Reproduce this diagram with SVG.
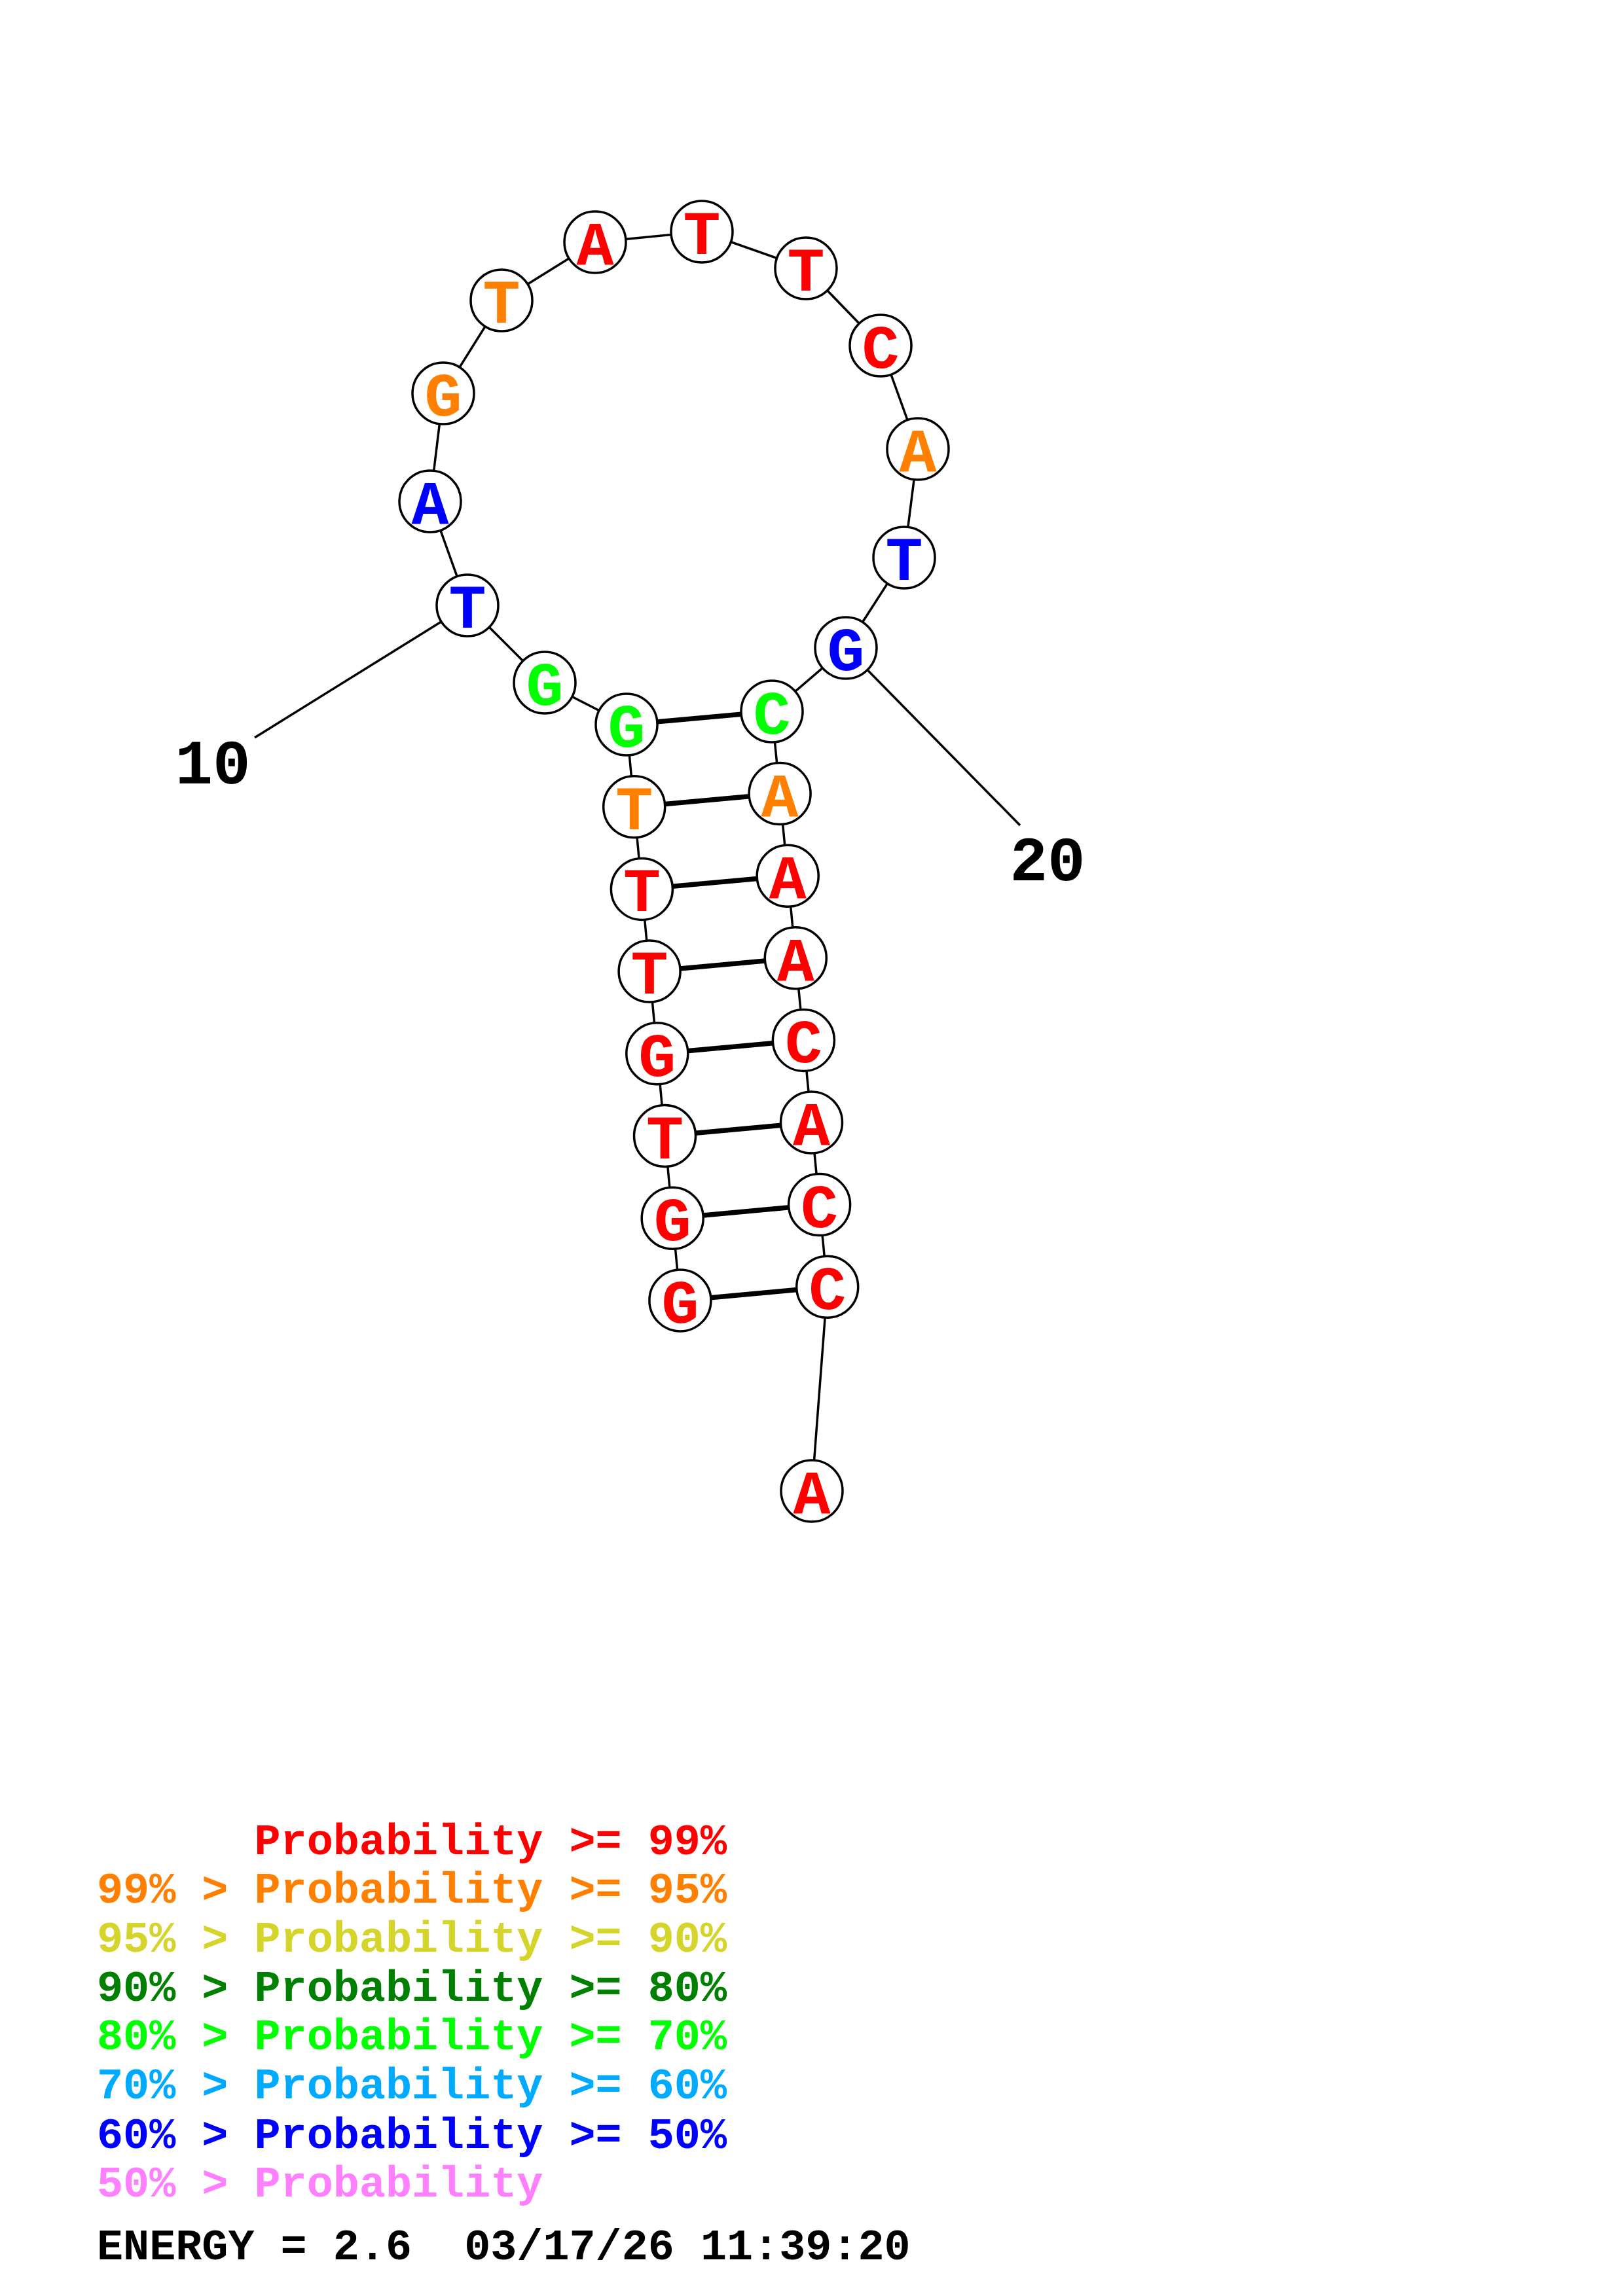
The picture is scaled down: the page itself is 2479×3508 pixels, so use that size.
<svg xmlns="http://www.w3.org/2000/svg" width="2479" height="3508" viewBox="0 0 2479 3508">
<style>
.bb{stroke:#000;stroke-width:3.5;fill:none}
.bp{stroke:#000;stroke-width:7.5;fill:none}
.nd circle{fill:#fff;stroke:#000;stroke-width:3.5}
.nd text{font-family:"Liberation Mono","DejaVu Sans Mono",monospace;font-weight:bold;font-size:95px;text-anchor:middle}
.lbl{font-family:"Liberation Mono","DejaVu Sans Mono",monospace;font-weight:bold;font-size:96px;text-anchor:middle;fill:#000}
.lg{font-family:"Liberation Mono","DejaVu Sans Mono",monospace;font-weight:bold;font-size:66.8px}
.r{fill:#FF0000}.o{fill:#FF8000}.y{fill:#D4D42A}.dg{fill:#008000}.g{fill:#00FF00}.lb{fill:#00AAFF}.b{fill:#0000FF}.p{fill:#FF80FF}.k{fill:#000}
</style>
<g id="connectors">
<polyline class="bb" points="1038.9,1986.9 1027.2,1861.2 1015.5,1735.5 1003.8,1609.8 992.1,1484.1 980.4,1358.4 968.7,1232.7 957,1107 832,1043 714,925 657,766 677,601 766,459 909,370 1072,354 1231,410 1345,528 1402,686 1381,852 1292,990 1179,1087 1191.1,1212.6 1203.2,1338.2 1215.3,1463.8 1227.4,1589.4 1239.5,1715 1251.6,1840.6 1263.7,1966.2 1240,2278"/>
<line class="bp" x1="957" y1="1107" x2="1179" y2="1087"/>
<line class="bp" x1="968.7" y1="1232.7" x2="1191.1" y2="1212.6"/>
<line class="bp" x1="980.4" y1="1358.4" x2="1203.2" y2="1338.2"/>
<line class="bp" x1="992.1" y1="1484.1" x2="1215.3" y2="1463.8"/>
<line class="bp" x1="1003.8" y1="1609.8" x2="1227.4" y2="1589.4"/>
<line class="bp" x1="1015.5" y1="1735.5" x2="1239.5" y2="1715"/>
<line class="bp" x1="1027.2" y1="1861.2" x2="1251.6" y2="1840.6"/>
<line class="bp" x1="1038.9" y1="1986.9" x2="1263.7" y2="1966.2"/>
<line class="bb" x1="714" y1="925" x2="389" y2="1127"/>
<line class="bb" x1="1292" y1="990" x2="1558" y2="1261"/>
</g>
<g id="n1" class="nd"><circle cx="1038.9" cy="1986.9" r="47"/><text x="1038.9" y="2020.9" class="r">G</text></g>
<g id="n2" class="nd"><circle cx="1027.2" cy="1861.2" r="47"/><text x="1027.2" y="1895.2" class="r">G</text></g>
<g id="n3" class="nd"><circle cx="1015.5" cy="1735.5" r="47"/><text x="1015.5" y="1769.5" class="r">T</text></g>
<g id="n4" class="nd"><circle cx="1003.8" cy="1609.8" r="47"/><text x="1003.8" y="1643.8" class="r">G</text></g>
<g id="n5" class="nd"><circle cx="992.1" cy="1484.1" r="47"/><text x="992.1" y="1518.1" class="r">T</text></g>
<g id="n6" class="nd"><circle cx="980.4" cy="1358.4" r="47"/><text x="980.4" y="1392.4" class="r">T</text></g>
<g id="n7" class="nd"><circle cx="968.7" cy="1232.7" r="47"/><text x="968.7" y="1266.7" class="o">T</text></g>
<g id="n8" class="nd"><circle cx="957" cy="1107" r="47"/><text x="957" y="1141" class="g">G</text></g>
<g id="n9" class="nd"><circle cx="832" cy="1043" r="47"/><text x="832" y="1077" class="g">G</text></g>
<g id="n10" class="nd"><circle cx="714" cy="925" r="47"/><text x="714" y="959" class="b">T</text></g>
<g id="n11" class="nd"><circle cx="657" cy="766" r="47"/><text x="657" y="800" class="b">A</text></g>
<g id="n12" class="nd"><circle cx="677" cy="601" r="47"/><text x="677" y="635" class="o">G</text></g>
<g id="n13" class="nd"><circle cx="766" cy="459" r="47"/><text x="766" y="493" class="o">T</text></g>
<g id="n14" class="nd"><circle cx="909" cy="370" r="47"/><text x="909" y="404" class="r">A</text></g>
<g id="n15" class="nd"><circle cx="1072" cy="354" r="47"/><text x="1072" y="388" class="r">T</text></g>
<g id="n16" class="nd"><circle cx="1231" cy="410" r="47"/><text x="1231" y="444" class="r">T</text></g>
<g id="n17" class="nd"><circle cx="1345" cy="528" r="47"/><text x="1345" y="562" class="r">C</text></g>
<g id="n18" class="nd"><circle cx="1402" cy="686" r="47"/><text x="1402" y="720" class="o">A</text></g>
<g id="n19" class="nd"><circle cx="1381" cy="852" r="47"/><text x="1381" y="886" class="b">T</text></g>
<g id="n20" class="nd"><circle cx="1292" cy="990" r="47"/><text x="1292" y="1024" class="b">G</text></g>
<g id="n21" class="nd"><circle cx="1179" cy="1087" r="47"/><text x="1179" y="1121" class="g">C</text></g>
<g id="n22" class="nd"><circle cx="1191.1" cy="1212.6" r="47"/><text x="1191.1" y="1246.6" class="o">A</text></g>
<g id="n23" class="nd"><circle cx="1203.2" cy="1338.2" r="47"/><text x="1203.2" y="1372.2" class="r">A</text></g>
<g id="n24" class="nd"><circle cx="1215.3" cy="1463.8" r="47"/><text x="1215.3" y="1497.8" class="r">A</text></g>
<g id="n25" class="nd"><circle cx="1227.4" cy="1589.4" r="47"/><text x="1227.4" y="1623.4" class="r">C</text></g>
<g id="n26" class="nd"><circle cx="1239.5" cy="1715" r="47"/><text x="1239.5" y="1749" class="r">A</text></g>
<g id="n27" class="nd"><circle cx="1251.6" cy="1840.6" r="47"/><text x="1251.6" y="1874.6" class="r">C</text></g>
<g id="n28" class="nd"><circle cx="1263.7" cy="1966.2" r="47"/><text x="1263.7" y="2000.2" class="r">C</text></g>
<g id="n29" class="nd"><circle cx="1240" cy="2278" r="47"/><text x="1240" y="2312" class="r">A</text></g>
<g id="labels">
<text class="lbl" x="325" y="1197">10</text>
<text class="lbl" x="1600" y="1345">20</text>
</g>
<g id="legend" class="lg">
<text x="388.5" y="2833" class="r">Probability &gt;= 99%</text>
<text x="148" y="2907" class="o">99% &gt; Probability &gt;= 95%</text>
<text x="148" y="2982" class="y">95% &gt; Probability &gt;= 90%</text>
<text x="148" y="3057" class="dg">90% &gt; Probability &gt;= 80%</text>
<text x="148" y="3131" class="g">80% &gt; Probability &gt;= 70%</text>
<text x="148" y="3206" class="lb">70% &gt; Probability &gt;= 60%</text>
<text x="148" y="3282" class="b">60% &gt; Probability &gt;= 50%</text>
<text x="148" y="3356" class="p">50% &gt; Probability</text>
<text x="148" y="3452" class="k" xml:space="preserve">ENERGY = 2.6  03/17/26 11:39:20</text>
</g>
</svg>
